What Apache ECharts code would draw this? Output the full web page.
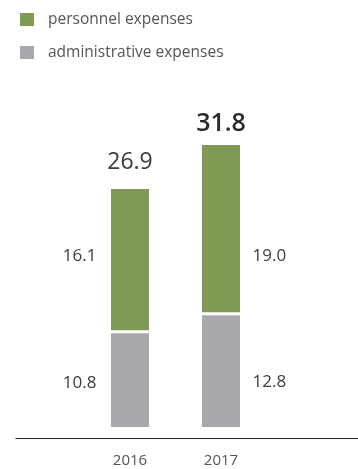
<!DOCTYPE html>
<html>
<head>
<meta charset="utf-8">
<style>
  html, body { margin: 0; padding: 0; background: #ffffff; }
  #chart { width: 358px; height: 469px; }
</style>
<script src="https://cdn.jsdelivr.net/npm/echarts@6/dist/echarts.min.js"></script>
</head>
<body>
<div id="chart"></div>
<script>
// Expense data (in millions)
const years = ['2016', '2017'];
const personnelExpenses = [16.1, 19.0];
const administrativeExpenses = [10.8, 12.8];
const totals = [26.9, 31.8];

const GREEN = '#7f9a54';
const GREY = '#a7a8ac';
const FONT = '"Open Sans", "Noto Sans", sans-serif';

// vertical nudges so segment labels line up across both columns
const personnelLabelShift = [-3, 27];
const adminLabelShift = [3, 11];

const chart = echarts.init(document.getElementById('chart'), null, { renderer: 'canvas' });

function segmentData(values, shifts) {
  return values.map((v, i) => ({
    value: v,
    label: {
      position: i === 0 ? 'left' : 'right',
      distance: i === 0 ? 13 : 11,
      offset: [0, shifts[i]]
    }
  }));
}

const segmentLabel = {
  show: true,
  fontFamily: FONT,
  fontSize: 17,
  color: '#3c3c3c',
  formatter: p => p.value.toFixed(1)
};

const option = {
  animation: false,
  backgroundColor: '#ffffff',
  legend: {
    data: ['personnel expenses', 'administrative expenses'],
    orient: 'vertical',
    left: 18,
    top: 11,
    padding: 0,
    icon: 'rect',
    itemWidth: 16,
    itemHeight: 15,
    itemGap: 16,
    textStyle: {
      fontFamily: FONT,
      fontSize: 15.5,
      color: '#555555',
      padding: [0, 0, 0, 8]
    }
  },
  grid: { left: 84.5, right: 91.5, top: 100, bottom: 31 },
  xAxis: {
    type: 'category',
    data: years,
    axisLine: { show: false },
    axisTick: { show: false },
    axisLabel: {
      fontFamily: FONT,
      fontSize: 15,
      color: '#555555',
      margin: 15
    }
  },
  yAxis: {
    type: 'value',
    min: -1.06,
    max: 36.66,
    show: false,
    splitLine: { show: false }
  },
  graphic: [{
    type: 'line',
    shape: { x1: 15.5, y1: 438.5, x2: 358, y2: 438.5 },
    style: { stroke: '#222222', lineWidth: 1 },
    silent: true
  }],
  series: [
    {
      name: 'administrative expenses',
      type: 'bar',
      stack: 'expenses',
      barWidth: 41,
      barGap: '-100%',
      itemStyle: { color: GREY, borderColor: '#ffffff', borderWidth: 1.5 },
      label: segmentLabel,
      data: segmentData(administrativeExpenses, adminLabelShift)
    },
    {
      name: 'personnel expenses',
      type: 'bar',
      stack: 'expenses',
      barWidth: 41,
      barGap: '-100%',
      itemStyle: { color: GREEN, borderColor: '#ffffff', borderWidth: 1.5 },
      label: segmentLabel,
      data: segmentData(personnelExpenses, personnelLabelShift)
    },
    {
      name: 'total',
      type: 'bar',
      barWidth: 41,
      barGap: '-100%',
      silent: true,
      itemStyle: { color: 'rgba(0,0,0,0)' },
      label: {
        show: true,
        position: 'top',
        fontFamily: FONT,
        color: '#2a2a2a',
        formatter: p => p.value.toFixed(1)
      },
      data: totals.map((v, i) => ({
        value: v,
        label: i === 0
          ? { fontSize: 23, fontWeight: 'normal', color: '#3a3a3a', distance: 14 }
          : { fontSize: 25, fontWeight: 600, distance: 7 }
      }))
    }
  ]
};

chart.setOption(option);
</script>
</body>
</html>
